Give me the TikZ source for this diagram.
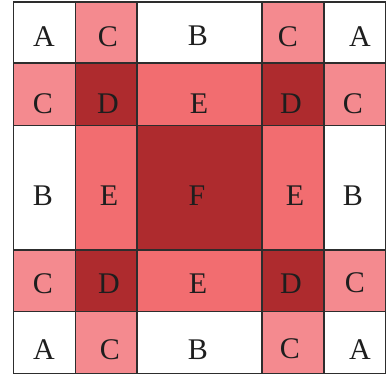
\documentclass[tikz,border=0pt]{standalone}
\usepackage{fontspec}
\setmainfont{Liberation Serif}
\definecolor{cpink}{RGB}{244,138,143}
\definecolor{epink}{RGB}{242,109,112}
\definecolor{dred}{RGB}{174,43,46}
\definecolor{gridc}{RGB}{45,45,45}
\definecolor{txt}{RGB}{30,30,30}
\begin{document}
\begin{tikzpicture}[x=1pt,y=-1pt,
  cell/.style={draw=gridc,line width=1.2pt},
  lab/.style={inner sep=0pt,text=txt,font=\fontsize{30}{30}\selectfont}]
\useasboundingbox (0,0) rectangle (386,375);
% column edges
\def\xa{13.5}\def\xb{75.5}\def\xc{137}\def\xd{262}\def\xe{324}\def\xf{385.5}
\def\ya{2}\def\yb{63}\def\yc{125.5}\def\yd{250}\def\ye{311.7}\def\yf{373.5}
% row 1
\filldraw[cell,fill=white] (\xa,\ya) rectangle (\xb,\yb);
\filldraw[cell,fill=cpink] (\xb,\ya) rectangle (\xc,\yb);
\filldraw[cell,fill=white] (\xc,\ya) rectangle (\xd,\yb);
\filldraw[cell,fill=cpink] (\xd,\ya) rectangle (\xe,\yb);
\filldraw[cell,fill=white] (\xe,\ya) rectangle (\xf,\yb);
% row 2
\filldraw[cell,fill=cpink] (\xa,\yb) rectangle (\xb,\yc);
\filldraw[cell,fill=dred] (\xb,\yb) rectangle (\xc,\yc);
\filldraw[cell,fill=epink] (\xc,\yb) rectangle (\xd,\yc);
\filldraw[cell,fill=dred] (\xd,\yb) rectangle (\xe,\yc);
\filldraw[cell,fill=cpink] (\xe,\yb) rectangle (\xf,\yc);
% row 3
\filldraw[cell,fill=white] (\xa,\yc) rectangle (\xb,\yd);
\filldraw[cell,fill=epink] (\xb,\yc) rectangle (\xc,\yd);
\filldraw[cell,fill=dred] (\xc,\yc) rectangle (\xd,\yd);
\filldraw[cell,fill=epink] (\xd,\yc) rectangle (\xe,\yd);
\filldraw[cell,fill=white] (\xe,\yc) rectangle (\xf,\yd);
% row 4
\filldraw[cell,fill=cpink] (\xa,\yd) rectangle (\xb,\ye);
\filldraw[cell,fill=dred] (\xb,\yd) rectangle (\xc,\ye);
\filldraw[cell,fill=epink] (\xc,\yd) rectangle (\xd,\ye);
\filldraw[cell,fill=dred] (\xd,\yd) rectangle (\xe,\ye);
\filldraw[cell,fill=cpink] (\xe,\yd) rectangle (\xf,\ye);
% row 5
\filldraw[cell,fill=white] (\xa,\ye) rectangle (\xb,\yf);
\filldraw[cell,fill=cpink] (\xb,\ye) rectangle (\xc,\yf);
\filldraw[cell,fill=white] (\xc,\ye) rectangle (\xd,\yf);
\filldraw[cell,fill=cpink] (\xd,\ye) rectangle (\xe,\yf);
\filldraw[cell,fill=white] (\xe,\ye) rectangle (\xf,\yf);
% labels
\node[lab] (r1c1) at (44,37) {A};
\node[lab] (r1c2) at (108,37) {C};
\node[lab] (r1c3) at (198,36) {B};
\node[lab] (r1c4) at (288,37) {C};
\node[lab] (r1c5) at (360,37) {A};
\node[lab] (r2c1) at (43,104) {C};
\node[lab] (r2c2) at (108,104) {D};
\node[lab] (r2c3) at (199,104) {E};
\node[lab] (r2c4) at (291,104) {D};
\node[lab] (r2c5) at (353,104) {C};
\node[lab] (r3c1) at (43,195.5) {B};
\node[lab] (r3c2) at (109,195.5) {E};
\node[lab] (r3c3) at (197,195.5) {F};
\node[lab] (r3c4) at (295,195.5) {E};
\node[lab] (r3c5) at (353,195.5) {B};
\node[lab] (r4c1) at (43,284) {C};
\node[lab] (r4c2) at (109,284) {D};
\node[lab] (r4c3) at (198,284) {E};
\node[lab] (r4c4) at (291,284) {D};
\node[lab] (r4c5) at (355,283) {C};
\node[lab] (r5c1) at (44,349.5) {A};
\node[lab] (r5c2) at (110,349.5) {C};
\node[lab] (r5c3) at (198,349.5) {B};
\node[lab] (r5c4) at (290,349) {C};
\node[lab] (r5c5) at (360,349.5) {A};
\end{tikzpicture}
\end{document}
